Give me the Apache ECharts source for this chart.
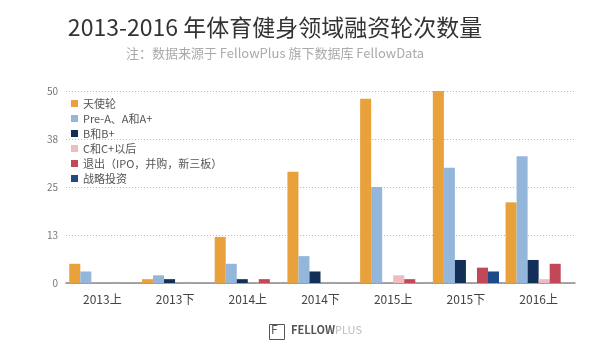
<!DOCTYPE html>
<html>
<head>
<meta charset="utf-8">
<script src="https://cdn.jsdelivr.net/npm/echarts@6/dist/echarts.min.js"></script>
<style>
  html, body { margin: 0; padding: 0; background: #fff; }
  #chart { width: 600px; height: 350px; }
</style>
</head>
<body>
<div id="chart"></div>
<script>
const categories = ['2013上', '2013下', '2014上', '2014下', '2015上', '2015下', '2016上']

const angel      = [5, 1, 12, 29, 48, 50, 21]
const preA       = [3, 2, 5, 7, 25, 30, 33]
const roundB     = [0, 1, 1, 3, 0, 6, 6]
const roundC     = [0, 0, 0, 0, 2, 0, 1]
const exits      = [0, 0, 1, 0, 1, 4, 5]
const strategic  = [0, 0, 0, 0, 0, 3, 0]

const yTicks = [0, 12.5, 25, 37.5, 50]

const font = "'Noto Sans CJK SC', 'Noto Sans', sans-serif"

const series = [
  { name: '天使轮', data: angel, color: '#E9A23B' },
  { name: 'Pre-A、A和A+', data: preA, color: '#94B6DA' },
  { name: 'B和B+', data: roundB, color: '#142F57' },
  { name: 'C和C+以后', data: roundC, color: '#EFBBC0' },
  { name: '退出（IPO，并购，新三板）', data: exits, color: '#C24758' },
  { name: '战略投资', data: strategic, color: '#1E4A87' },
]

const chart = echarts.init(document.getElementById('chart'), null, { renderer: 'canvas' })

chart.setOption({
  animation: false,
  backgroundColor: '#fff',
  textStyle: { fontFamily: font },
  title: {
    text: '2013-2016 年体育健身领域融资轮次数量',
    subtext: '注：数据来源于 FellowPlus 旗下数据库 FellowData',
    left: 270,
    textAlign: 'center',
    top: 11,
    itemGap: 8,
    textStyle: { fontSize: 23, fontWeight: 'normal', color: '#333', fontFamily: font },
    subtextStyle: { fontSize: 13, color: '#aaa', fontFamily: font },
  },
  legend: {
    orient: 'vertical',
    left: 66,
    top: 93,
    itemWidth: 7,
    itemHeight: 7,
    itemGap: 4,
    icon: 'rect',
    textStyle: { fontSize: 11, color: '#555', fontFamily: font },
  },
  grid: { left: 66, right: 25, top: 91, bottom: 67 },
  xAxis: {
    type: 'category',
    data: categories,
    axisLine: { lineStyle: { color: '#888', width: 1.5 } },
    axisTick: { show: false },
    axisLabel: { fontSize: 12, color: '#444', margin: 10, fontFamily: font },
  },
  yAxis: {
    type: 'value',
    min: 0,
    max: 50,
    interval: 12.5,
    axisLine: { show: false },
    axisTick: { show: false },
    axisLabel: {
      fontSize: 10, color: '#777', margin: 8,
      formatter: (v) => yTicks.includes(v) ? String(Math.round(v)) : '',
    },
    splitLine: { lineStyle: { color: '#bbb', type: [1, 2], width: 1 } },
  },
  series: series.map((s) => ({
    type: 'bar',
    name: s.name,
    data: s.data,
    barGap: '0%',
    barCategoryGap: '9%',
    itemStyle: { color: s.color },
    emphasis: { disabled: true },
  })),
  graphic: [
    {
      type: 'rect',
      left: 267, top: 322,
      shape: { width: 15, height: 15 },
      style: { fill: 'none', stroke: '#555', lineWidth: 1 },
    },
    {
      type: 'text',
      left: 271, top: 323,
      style: { text: 'F', fontSize: 12, fill: '#555', fontFamily: font },
    },
    {
      type: 'text',
      left: 291, top: 324,
      style: { text: 'FELLOW', fontSize: 11, fontWeight: 'bold', fill: '#555', fontFamily: font },
    },
    {
      type: 'text',
      left: 335, top: 324,
      style: { text: 'PLUS', fontSize: 11, fill: '#bbb', fontFamily: font },
    },
  ],
})
</script>
</body>
</html>
